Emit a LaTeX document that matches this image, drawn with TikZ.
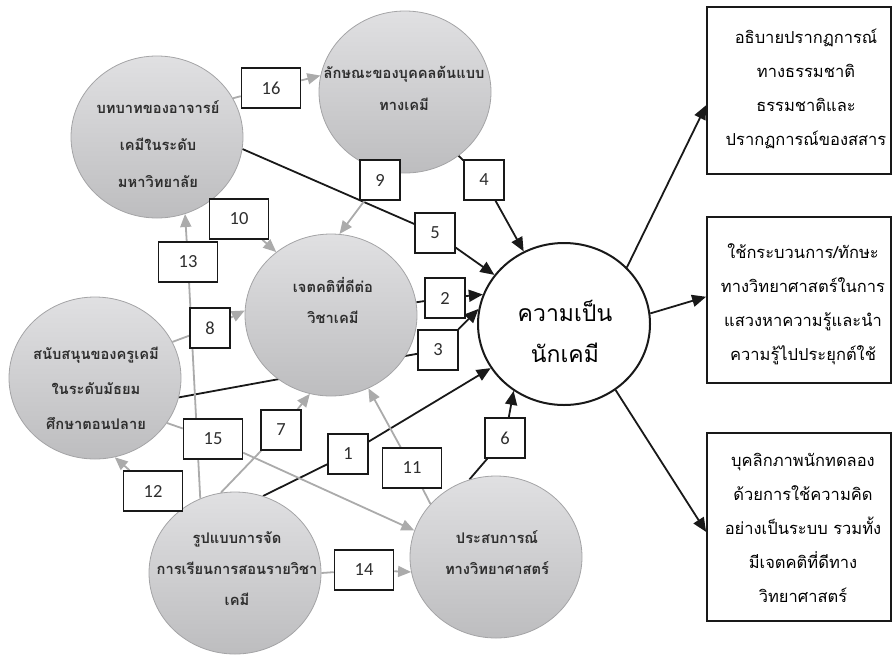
\documentclass[tikz,border=0pt]{standalone}
\usepackage{fontspec}
\newfontfamily\thaifont[Script=Thai]{Loma}
\newfontfamily\numfont{Carlito}
\usetikzlibrary{shapes.geometric,arrows.meta}
\pgfdeclarelayer{links}
\pgfsetlayers{links,main}
\definecolor{linkgray}{HTML}{ABABAB}
\definecolor{circtop}{HTML}{E0E0E2}
\definecolor{circbot}{HTML}{BDBDBF}
\definecolor{circedge}{HTML}{A4A4A6}
\definecolor{inktext}{HTML}{2E2E2E}
\tikzset{
  factor/.style={ellipse, minimum width=172pt, minimum height=162pt, inner sep=0pt,
    draw=circedge, line width=0.8pt, top color=circtop, bottom color=circbot},
  core/.style={ellipse, minimum width=172pt, minimum height=162pt, inner sep=0pt,
    draw=black!90, line width=2pt, fill=white},
  outbox/.style={rectangle, draw=black!90, line width=1.8pt, minimum width=184pt, inner sep=0pt},
  numbox/.style={rectangle, draw=black!90, line width=1.5pt, fill=white, minimum height=40pt,
    inner sep=0pt, font=\numfont\fontsize{18.5}{18.5}\selectfont, text=inktext},
  wide/.style={minimum width=59pt},
  narrow/.style={minimum width=40pt},
  ftext/.style={align=center, text=inktext, font=\thaifont\bfseries\fontsize{14.7}{#1}\selectfont},
  btext/.style={align=center, text=black, font=\thaifont\fontsize{16.5}{34}\selectfont},
  blk/.style={draw=black!90, line width=1.8pt},
  blkarrow/.style={blk, -{Triangle[length=14pt,width=12pt]}},
  gry/.style={draw=linkgray, line width=1.8pt},
  gryarrow/.style={gry, -{Triangle[length=13pt,width=11pt]}}
}
\begin{document}
\begin{tikzpicture}[x=1pt,y=-1pt]
\useasboundingbox (0,0) rectangle (893,654);

% factor circles
\node[factor] (A) at (157,137) {};
\node[factor] (B) at (405,92) {};
\node[factor] (C) at (331,315) {};
\node[factor] (D) at (95,378) {};
\node[factor] (E) at (235,573) {};
\node[factor] (F) at (496,557) {};
\node[core]   (M) at (564,324) {};

\node[ftext=37] (tA) at (158,144) {บทบาทของอาจารย์\\เคมีในระดับ\\มหาวิทยาลัย};
\node[ftext=32] (tB) at (404,88) {ลักษณะของบุคคลต้นแบบ\\ทางเคมี};
\node[ftext=31] (tC) at (333,300) {เจตคติที่ดีต่อ\\วิชาเคมี};
\node[ftext=35] (tD) at (96,388) {สนับสนุนของครูเคมี\\ในระดับมัธยม\\ศึกษาตอนปลาย};
\node[ftext=31] (tE) at (237,569) {รูปแบบการจัด\\การเรียนการสอนรายวิชา\\เคมี};
\node[ftext=31] (tF) at (497,553) {ประสบการณ์\\ทางวิทยาศาสตร์};
\node[align=center, text=black, font=\thaifont\fontsize{23}{41}\selectfont] (tM) at (565,331) {ความเป็น\\นักเคมี};

% outcome boxes
\node[outbox, minimum height=167pt] (R1) at (799,90.5) {};
\node[outbox, minimum height=166pt] (R2) at (799,300) {};
\node[outbox, minimum height=188pt] (R3) at (799,527) {};
\node[btext] (tR1) at (806,89) {อธิบายปรากฏการณ์\\ทางธรรมชาติ\\ธรรมชาติและ\\ปรากฏการณ์ของสสาร};
\node[btext] (tR2) at (803,304) {ใช้กระบวนการ/ทักษะ\\ทางวิทยาศาสตร์ในการ\\แสวงหาความรู้และนำ\\ความรู้ไปประยุกต์ใช้};
\node[btext] (tR3) at (803,527.5) {บุคลิกภาพนักทดลอง\\ด้วยการใช้ความคิด\\อย่างเป็นระบบ รวมทั้ง\\มีเจตคติที่ดีทาง\\วิทยาศาสตร์};

% path numbers
\node[numbox, narrow] (b1)  at (348,454) {1};
\node[numbox, narrow] (b2)  at (445,298) {2};
\node[numbox, narrow] (b3)  at (438,350) {3};
\node[numbox, narrow] (b4)  at (484,180) {4};
\node[numbox, narrow] (b5)  at (435,233) {5};
\node[numbox, narrow] (b6)  at (505,438) {6};
\node[numbox, narrow] (b7)  at (281,430) {7};
\node[numbox, narrow] (b8)  at (210,328) {8};
\node[numbox, narrow] (b9)  at (380,180) {9};
\node[numbox, wide]   (b10) at (239,219) {10};
\node[numbox, wide]   (b11) at (412,468) {11};
\node[numbox, wide]   (b12) at (153,491) {12};
\node[numbox, wide]   (b13) at (188,262) {13};
\node[numbox, wide]   (b14) at (364,570) {14};
\node[numbox, wide]   (b15) at (213,439) {15};
\node[numbox, wide]   (b16) at (271,88) {16};

\begin{pgfonlayer}{links}
  % direct paths to the core
  \draw[blk] (E.70) -- (b1);   \draw[blkarrow] (b1) -- (M);
  \draw[blk] (C) -- (b2);      \draw[blkarrow] (b2) -- (M.160);
  \draw[blk] (D.-13) -- (b3);  \draw[blkarrow] (b3) -- (M.170);
  \draw[blk] (B.-50) -- (b4);  \draw[blkarrow] (b4) -- (M);
  \draw[blk] (A.-8) -- (b5);   \draw[blkarrow] (b5) -- (M);
  \draw[blk] (F.109) -- (b6);  \draw[blkarrow] (b6) -- (M.-127);
  % paths between factors
  \draw[gry] (E.100) -- (b7);  \draw[gryarrow] (b7) -- (C.-105);
  \draw[gry] (D.25) -- (b8);   \draw[gryarrow] (b8) -- (C.177);
  \draw[gry] (B) -- (b9);      \draw[gryarrow] (b9) -- (C.84);
  \draw[gry] (A.-48) -- (b10); \draw[gryarrow] (b10) -- (C.131);
  \draw[gry] (F.141) -- (b11); \draw[gryarrow] (b11) -- (C.-63);
  \draw[gry] (E.133) -- (b12); \draw[gryarrow] (b12) -- (D.-76);
  \draw[gry] (E.115) -- (b13); \draw[gryarrow] (b13) -- (A.-70);
  \draw[gry] (E.0) -- (b14);   \draw[gryarrow] (b14) -- (F.-170);
  \draw[gry] (D.-32) -- (b15); \draw[gryarrow] (b15) -- (F.162);
  \draw[gry] (A.27) -- (b16);  \draw[gryarrow] (b16) -- (B.169);
  % outcomes
  \draw[blkarrow] (M.42) -- (R1.-171);
  \draw[blkarrow] (M.7) -- (R2.178);
  \draw[blkarrow] (M.-52) -- (R3.-177);
\end{pgfonlayer}
\end{tikzpicture}
\end{document}
